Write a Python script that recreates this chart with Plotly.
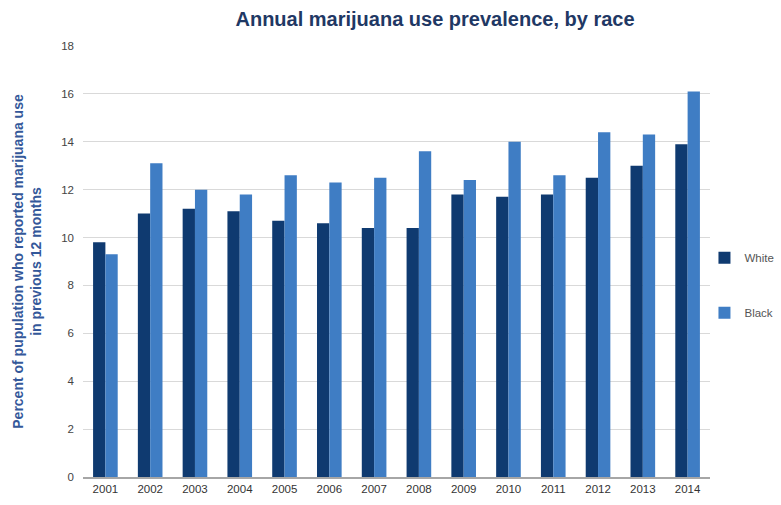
import plotly.graph_objects as go

years = ["2001", "2002", "2003", "2004", "2005", "2006", "2007",
         "2008", "2009", "2010", "2011", "2012", "2013", "2014"]
white = [9.8, 11.0, 11.2, 11.1, 10.7, 10.6, 10.4, 10.4, 11.8, 11.7, 11.8, 12.5, 13.0, 13.9]
black = [9.3, 13.1, 12.0, 11.8, 12.6, 12.3, 12.5, 13.6, 12.4, 14.0, 12.6, 14.4, 14.3, 16.1]
y_ticks = [0, 2, 4, 6, 8, 10, 12, 14, 16, 18]

font_family = "Liberation Sans, Arial, sans-serif"

fig = go.Figure()
fig.add_trace(go.Bar(x=years, y=white, name="White", marker_color="#0f3a70",
                     marker_line_width=0, legendgroup="w"))
fig.add_trace(go.Bar(x=years, y=black, name="Black", marker_color="#3f7dc4",
                     marker_line_width=0, legendgroup="b"))

fig.update_layout(
    width=781, height=505,
    margin=dict(l=83, r=71, t=46, b=28, autoexpand=False),
    paper_bgcolor="white", plot_bgcolor="white",
    barmode="group", bargap=0.45, bargroupgap=0,
    font=dict(family=font_family, size=11, color="#333333"),
    title=dict(text="<b>Annual marijuana use prevalence, by race</b>",
               x=0.557, xanchor="center", y=0.963, yanchor="middle",
               font=dict(size=20, color="#1f3864", family=font_family)),
    legend=dict(xref="container", yref="container",
                x=0.902, xanchor="left", y=0.435, yanchor="middle",
                tracegroupgap=36, itemwidth=30,
                font=dict(size=11.5, color="#555555"),
                bgcolor="rgba(0,0,0,0)"),
    xaxis=dict(type="category", showgrid=False, showline=True,
               linecolor="#a6a6a6", linewidth=1.5, ticks="",
               tickfont=dict(size=11.5, color="#333333")),
    yaxis=dict(range=[0, 18], tickvals=y_ticks, showgrid=True,
               gridcolor="#d9d9d9", gridwidth=1, zeroline=False,
               ticks="", ticklabelstandoff=8,
               tickfont=dict(size=11.5, color="#444444"),
               title=dict(text="<b>Percent of pupulation who reported marijuana use<br>in previous 12 months</b>",
                          font=dict(size=14, color="#34589a"), standoff=16)),
)

fig.write_html("out.html")
